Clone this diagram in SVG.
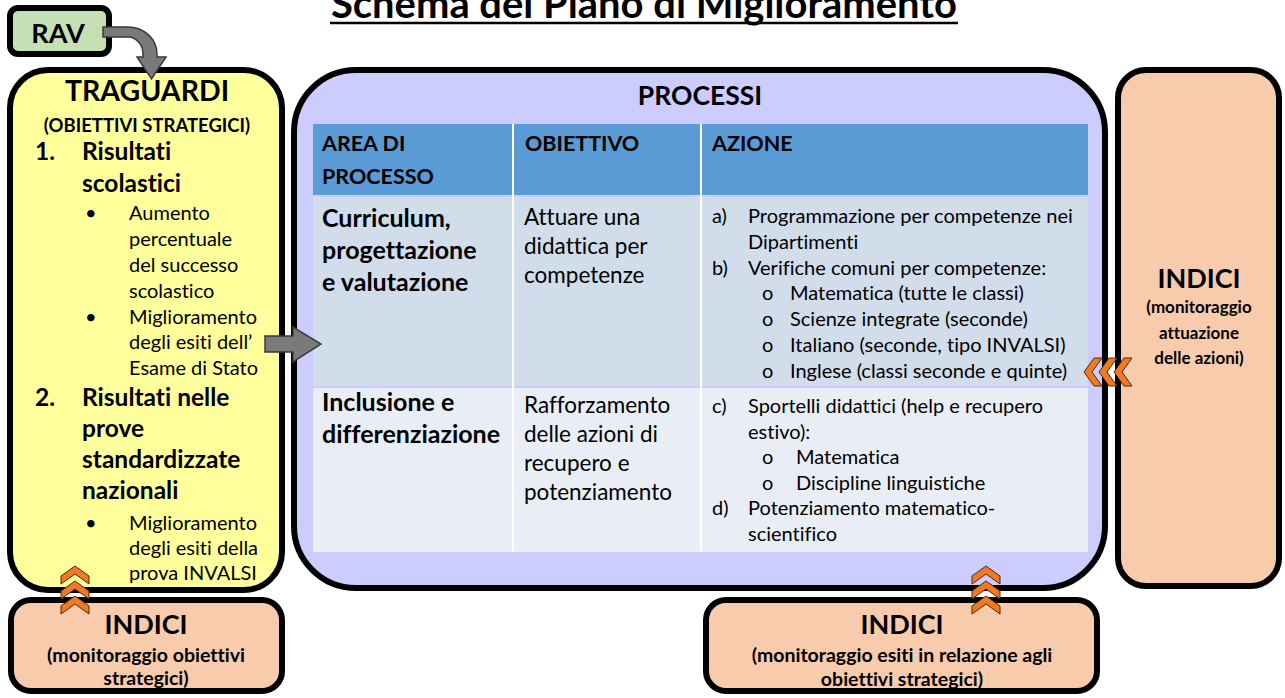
<svg xmlns="http://www.w3.org/2000/svg" xmlns:xlink="http://www.w3.org/1999/xlink" width="1285" height="698" viewBox="0 0 1285 698">
<style>
text{font-family:Lato,"Open Sans","Liberation Sans",sans-serif;fill:#000;font-variant-ligatures:none;font-feature-settings:"liga" 0,"dlig" 0}
.b{font-weight:bold}
.c{text-anchor:middle}
.box{stroke:#000;stroke-width:6}
.indici{fill:#f8cbad}
.arrow{fill:#7a7a7a;stroke:#3a3a3a;stroke-width:1.5}
.chev{fill:#f07a22;stroke:#4a2a10;stroke-width:1}
.t-title{font-size:40px}
.t-big{font-size:28.5px}
.t-ind{font-size:27px}
.t-sub{font-size:18.5px}
.t-subb{font-size:19.5px}
.t-subr{font-size:17px}
.t-l1{font-size:24.5px}
.t-l2{font-size:20px}
.t-hd{font-size:21.5px}
.t-c1{font-size:25px}
.t-c2{font-size:22.5px}
.t-c3{font-size:20px}
</style>
<defs>
<path id="chev" d="M0,0 L14,10 L14,18 L0,8 L-14,18 L-14,10 Z"/>
<g id="chev3" class="chev">
<use xlink:href="#chev" y="0"/>
<use xlink:href="#chev" y="15"/>
<use xlink:href="#chev" y="30"/>
</g>
</defs>
<rect width="1285" height="698" fill="#ffffff"/>

<g id="title">
<text class="b t-title c" x="644" y="18" textLength="626" lengthAdjust="spacingAndGlyphs">Schema del Piano di Miglioramento</text>
<line x1="330" y1="23" x2="958" y2="23" stroke="#000" stroke-width="2.5"/>
</g>

<g id="processi">
<rect class="box" x="294" y="70" width="811" height="518" rx="62" fill="#ccccff"/>
<text class="b c" style="font-size:26.5px" x="700" y="105">PROCESSI</text>
<rect x="313" y="124" width="775" height="71" fill="#5b9bd5"/>
<rect x="313" y="197" width="775" height="189" fill="#d1ddeb"/>
<rect x="313" y="388" width="775" height="164" fill="#e9eef6"/>
<line x1="513" y1="124" x2="513" y2="552" stroke="#ffffff" stroke-width="2"/>
<line x1="701" y1="124" x2="701" y2="552" stroke="#ffffff" stroke-width="2"/>
<text class="b t-hd" x="322" y="151">AREA DI</text>
<text class="b t-hd" x="322" y="184">PROCESSO</text>
<text class="b t-hd" x="525" y="151">OBIETTIVO</text>
<text class="b t-hd" x="712" y="151">AZIONE</text>
<text class="b t-c1" x="322" y="227">Curriculum,</text>
<text class="b t-c1" x="322" y="259">progettazione</text>
<text class="b t-c1" x="322" y="291">e valutazione</text>
<text class="t-c2" x="524" y="225">Attuare una</text>
<text class="t-c2" x="524" y="254">didattica per</text>
<text class="t-c2" x="524" y="283">competenze</text>
<text class="t-c3" x="712" y="223">a)</text>
<text class="t-c3" x="748" y="223">Programmazione per competenze nei</text>
<text class="t-c3" x="748" y="249">Dipartimenti</text>
<text class="t-c3" x="712" y="275">b)</text>
<text class="t-c3" x="748" y="275">Verifiche comuni per competenze:</text>
<text class="t-c3" x="762" y="300">o</text>
<text class="t-c3" x="790" y="300">Matematica (tutte le classi)</text>
<text class="t-c3" x="762" y="326">o</text>
<text class="t-c3" x="790" y="326">Scienze integrate (seconde)</text>
<text class="t-c3" x="762" y="352">o</text>
<text class="t-c3" x="790" y="352">Italiano (seconde, tipo INVALSI)</text>
<text class="t-c3" x="762" y="378">o</text>
<text class="t-c3" x="790" y="378">Inglese (classi seconde e quinte)</text>
<text class="b t-c1" x="322" y="411">Inclusione e</text>
<text class="b t-c1" x="322" y="443">differenziazione</text>
<text class="t-c2" x="524" y="413">Rafforzamento</text>
<text class="t-c2" x="524" y="442">delle azioni di</text>
<text class="t-c2" x="524" y="471">recupero e</text>
<text class="t-c2" x="524" y="500">potenziamento</text>
<text class="t-c3" x="712" y="413">c)</text>
<text class="t-c3" x="748" y="413">Sportelli didattici (help e recupero</text>
<text class="t-c3" x="748" y="439">estivo):</text>
<text class="t-c3" x="762" y="464">o</text>
<text class="t-c3" x="796" y="464">Matematica</text>
<text class="t-c3" x="762" y="490">o</text>
<text class="t-c3" x="796" y="490">Discipline linguistiche</text>
<text class="t-c3" x="712" y="515">d)</text>
<text class="t-c3" x="748" y="515">Potenziamento matematico-</text>
<text class="t-c3" x="748" y="541">scientifico</text>
</g>

<g id="traguardi">
<rect class="box" x="10" y="70" width="272" height="520" rx="38" fill="#ffff9c"/>
<text class="b t-big c" x="147" y="101">TRAGUARDI</text>
<text class="b t-sub c" x="147" y="132">(OBIETTIVI STRATEGICI)</text>
<text class="b t-l1" x="35" y="160">1.</text>
<text class="b t-l1" x="82" y="160">Risultati</text>
<text class="b t-l1" x="82" y="192">scolastici</text>
<text class="t-l2" x="85" y="220">•</text>
<text class="t-l2" x="129" y="220">Aumento</text>
<text class="t-l2" x="129" y="246">percentuale</text>
<text class="t-l2" x="129" y="272">del successo</text>
<text class="t-l2" x="129" y="298">scolastico</text>
<text class="t-l2" x="85" y="324">•</text>
<text class="t-l2" x="129" y="324">Miglioramento</text>
<text class="t-l2" x="129" y="349">degli esiti dell’</text>
<text class="t-l2" x="129" y="375">Esame di Stato</text>
<text class="b t-l1" x="35" y="406">2.</text>
<text class="b t-l1" x="82" y="406">Risultati nelle</text>
<text class="b t-l1" x="82" y="437">prove</text>
<text class="b t-l1" x="82" y="468">standardizzate</text>
<text class="b t-l1" x="82" y="499">nazionali</text>
<text class="t-l2" x="85" y="530">•</text>
<text class="t-l2" x="129" y="530">Miglioramento</text>
<text class="t-l2" x="129" y="555">degli esiti della</text>
<text class="t-l2" x="129" y="580">prova INVALSI</text>
</g>

<g id="rav">
<rect class="box" x="10" y="8" width="99" height="46" rx="8" fill="#c5e0b4"/>
<text class="b c" style="font-size:27px" x="58" y="43">RAV</text>
</g>

<g id="indici-right">
<rect class="box indici" x="1118" y="70" width="161" height="516" rx="28"/>
<text class="b t-ind c" x="1199" y="288">INDICI</text>
<text class="b t-subr c" x="1199" y="313">(monitoraggio</text>
<text class="b t-subr c" x="1199" y="339">attuazione</text>
<text class="b t-subr c" x="1199" y="364">delle azioni)</text>
</g>

<g id="indici-left">
<rect class="box indici" x="11" y="600" width="271" height="91" rx="20"/>
<text class="b t-ind c" x="146" y="634">INDICI</text>
<text class="b t-subb c" x="146" y="662">(monitoraggio obiettivi</text>
<text class="b t-subb c" x="146" y="685">strategici)</text>
</g>

<g id="indici-bottom">
<rect class="box indici" x="706" y="600" width="391" height="91" rx="20"/>
<text class="b t-ind c" x="902" y="634">INDICI</text>
<text class="b t-subb c" x="902" y="662">(monitoraggio esiti in relazione agli</text>
<text class="b t-subb c" x="902" y="686">obiettivi strategici)</text>
</g>

<g id="connectors">
<path class="arrow" d="M103,27 H128 A29,27 0 0 1 157,54 V57 H166 L151.5,79 L137,57 H143 V54 A15,17 0 0 0 128,37 H103 Z"/>
<path class="arrow" d="M265,336 H293 V327 L321,344 L293,362 V352 H265 Z"/>
<use xlink:href="#chev3" x="75" y="566"/>
<use xlink:href="#chev3" x="986" y="566"/>
<g transform="translate(1084,372) rotate(-90)">
<use xlink:href="#chev3"/>
</g>
</g>
</svg>
